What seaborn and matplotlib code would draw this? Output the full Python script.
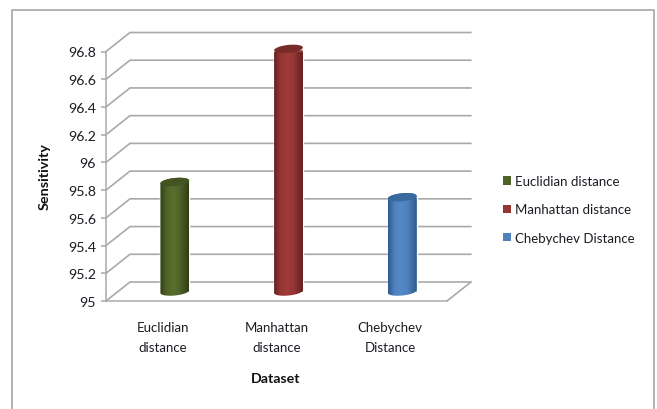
import matplotlib
matplotlib.use("Agg")
import matplotlib.pyplot as plt
from matplotlib.colors import LinearSegmentedColormap
from matplotlib.lines import Line2D
from matplotlib.patches import Polygon
from matplotlib.path import Path
from matplotlib.transforms import Affine2D, IdentityTransform
import numpy as np
import pandas as pd
import seaborn as sns

methods = ["Euclidian distance", "Manhattan distance", "Chebychev Distance"]
category_labels = ["Euclidian\ndistance", "Manhattan\ndistance", "Chebychev\nDistance"]
sensitivity = [95.79, 96.75, 95.68]
y_ticks = [95, 95.2, 95.4, 95.6, 95.8, 96, 96.2, 96.4, 96.6, 96.8]

face_colors = ["#4f6228", "#953735", "#4f81bd"]
light_colors = ["#5a6f2e", "#9e3b39", "#5588c6"]
edge_colors = ["#323f16", "#642220", "#2e5a8e"]
cap_colors = ["#445420", "#772c2a", "#386a9f"]
grid_color = "#a9a9a9"

W, H = 657, 410
FONT = "Lato"
TEXT = "#1c1c24"

sns.set_theme(style="white", rc={"font.family": FONT})
fig = plt.figure(figsize=(W / 100, H / 100), dpi=100, facecolor="white")


def fx(px):
    return px / W


def fy(py):
    return 1 - py / H


# The axes rectangle is the front plane of the 3-D chart box.
left, right, top, bottom = 106, 447, 52.5, 302
ax = fig.add_axes([fx(left), fy(bottom), fx(right - left), (bottom - top) / H])
ax.patch.set_visible(False)

frame = pd.DataFrame({"method": methods, "sensitivity": sensitivity})
sns.barplot(
    data=frame, x="method", y="sensitivity", hue="method",
    palette=face_colors, hue_order=methods, dodge=False, width=0.255,
    legend=False, ax=ax, zorder=3,
)

ax.set_xlim(-0.5, 2.5)
ax.set_ylim(y_ticks[0], y_ticks[-1])
ax.set_yticks(y_ticks, [f"{v:g}" for v in y_ticks])
ax.set_xticks(range(len(category_labels)), category_labels, linespacing=1.78)
ax.tick_params(axis="y", length=3.8, width=1.1, color=grid_color, pad=3.5,
               labelsize=10.2, labelcolor=TEXT, left=True)
ax.tick_params(axis="x", length=0, pad=14.5, labelsize=9.5, labelcolor=TEXT)
for side in ("top", "right"):
    ax.spines[side].set_visible(False)
for side in ("left", "bottom"):
    ax.spines[side].set_color(grid_color)
    ax.spines[side].set_linewidth(1.1)
ax.set_xlabel("")
ax.set_ylabel("")

# Depth of the box in pixels; the bars stand halfway back.
depth_x, depth_y = 24, 19
middle = Affine2D().translate(depth_x / 2, depth_y / 2)

# Wall gridlines and the side-wall diagonals.
to_px = ax.transData
for value in y_ticks:
    fx0, fy0 = to_px.transform((-0.5, value))
    fx1, _ = to_px.transform((2.5, value))
    ax.add_line(Line2D([fx0, fx0 + depth_x, fx1 + depth_x],
                       [fy0, fy0 + depth_y, fy0 + depth_y],
                       color=grid_color, lw=1.2, transform=IdentityTransform(),
                       clip_on=False, zorder=1))
fx0, fy0 = to_px.transform((-0.5, y_ticks[0]))
fx1, _ = to_px.transform((2.5, y_ticks[0]))
ax.add_line(Line2D([fx1, fx1 + depth_x], [fy0, fy0 + depth_y], color=grid_color,
                   lw=1.2, transform=IdentityTransform(), clip_on=False, zorder=1))

# Turn the flat bars into shaded cylinders standing on the floor of the box.
semi_minor = 4.0
tilt = np.deg2rad(6)


def ellipse_points(cx, cy, semi_major, start, stop):
    t = np.linspace(start, stop, 40)
    ex = semi_major * np.cos(t)
    ey = semi_minor * np.sin(t)
    return np.column_stack([cx + ex * np.cos(tilt) - ey * np.sin(tilt),
                            cy + ex * np.sin(tilt) + ey * np.cos(tilt)])


limits = ax.get_xlim(), ax.get_ylim()
for bar, value, face, light, edge, cap in zip(
        ax.patches, sensitivity, face_colors, light_colors, edge_colors, cap_colors):
    bar.set_y(y_ticks[0])
    bar.set_height(value - y_ticks[0])
    bar.set_transform(ax.transData + middle)
    bar.set_clip_on(False)
    (x0, y0), (x1, y1) = (ax.transData + middle).transform(
        [(bar.get_x(), bar.get_y()), (bar.get_x() + bar.get_width(), value)]
    )
    cx, semi = (x0 + x1) / 2, (x1 - x0) / 2
    lower = ellipse_points(cx, y0, semi, np.pi, 2 * np.pi)
    upper = ellipse_points(cx, y1, semi, 0, np.pi)
    outline = np.vstack([lower, upper, lower[:1]])
    cmap = LinearSegmentedColormap.from_list(
        "cyl", [(0, edge), (0.22, face), (0.45, light), (0.68, face), (1, edge)]
    )
    shade = ax.imshow(
        np.linspace(0, 1, 64)[None, :], cmap=cmap, aspect="auto",
        extent=(x0, x1, y0 - 6, y1 + 6), transform=IdentityTransform(),
        zorder=4, interpolation="bilinear",
    )
    shade.set_clip_path(Path(outline, closed=True), IdentityTransform())
    ax.add_patch(Polygon(ellipse_points(cx, y1, semi, 0, 2 * np.pi), closed=True,
                         facecolor=cap, edgecolor="none",
                         transform=IdentityTransform(), clip_on=False, zorder=5))
ax.set_xlim(limits[0])
ax.set_ylim(limits[1])

# Axis titles.
fig.text(fx(45), fy(177), "Sensitivity", rotation=90, ha="center", va="center",
         fontsize=10.4, fontweight="bold", color="#111111")
fig.text(fx(276), fy(379), "Dataset", ha="center", va="center",
         fontsize=10.2, fontweight="bold", color="#111111")

# Legend.
handles = [plt.Rectangle((0, 0), 1, 1, facecolor=c, edgecolor="none") for c in face_colors]
fig.legend(handles, methods, loc="center left",
           bbox_to_anchor=(fx(503), fy(210.5)), frameon=False, fontsize=9.5,
           handlelength=0.62, handleheight=0.62, handletextpad=0.3,
           labelspacing=1.24, borderpad=0, borderaxespad=0, labelcolor=TEXT)

# Chart-area border, open along the bottom edge.
fig.add_artist(Line2D([fx(12), fx(12), fx(654), fx(654)],
                      [fy(410), fy(11), fy(11), fy(410)],
                      color="#a6a6a6", lw=1.2, transform=fig.transFigure))

fig.savefig("out.png", dpi=100, facecolor="white")
